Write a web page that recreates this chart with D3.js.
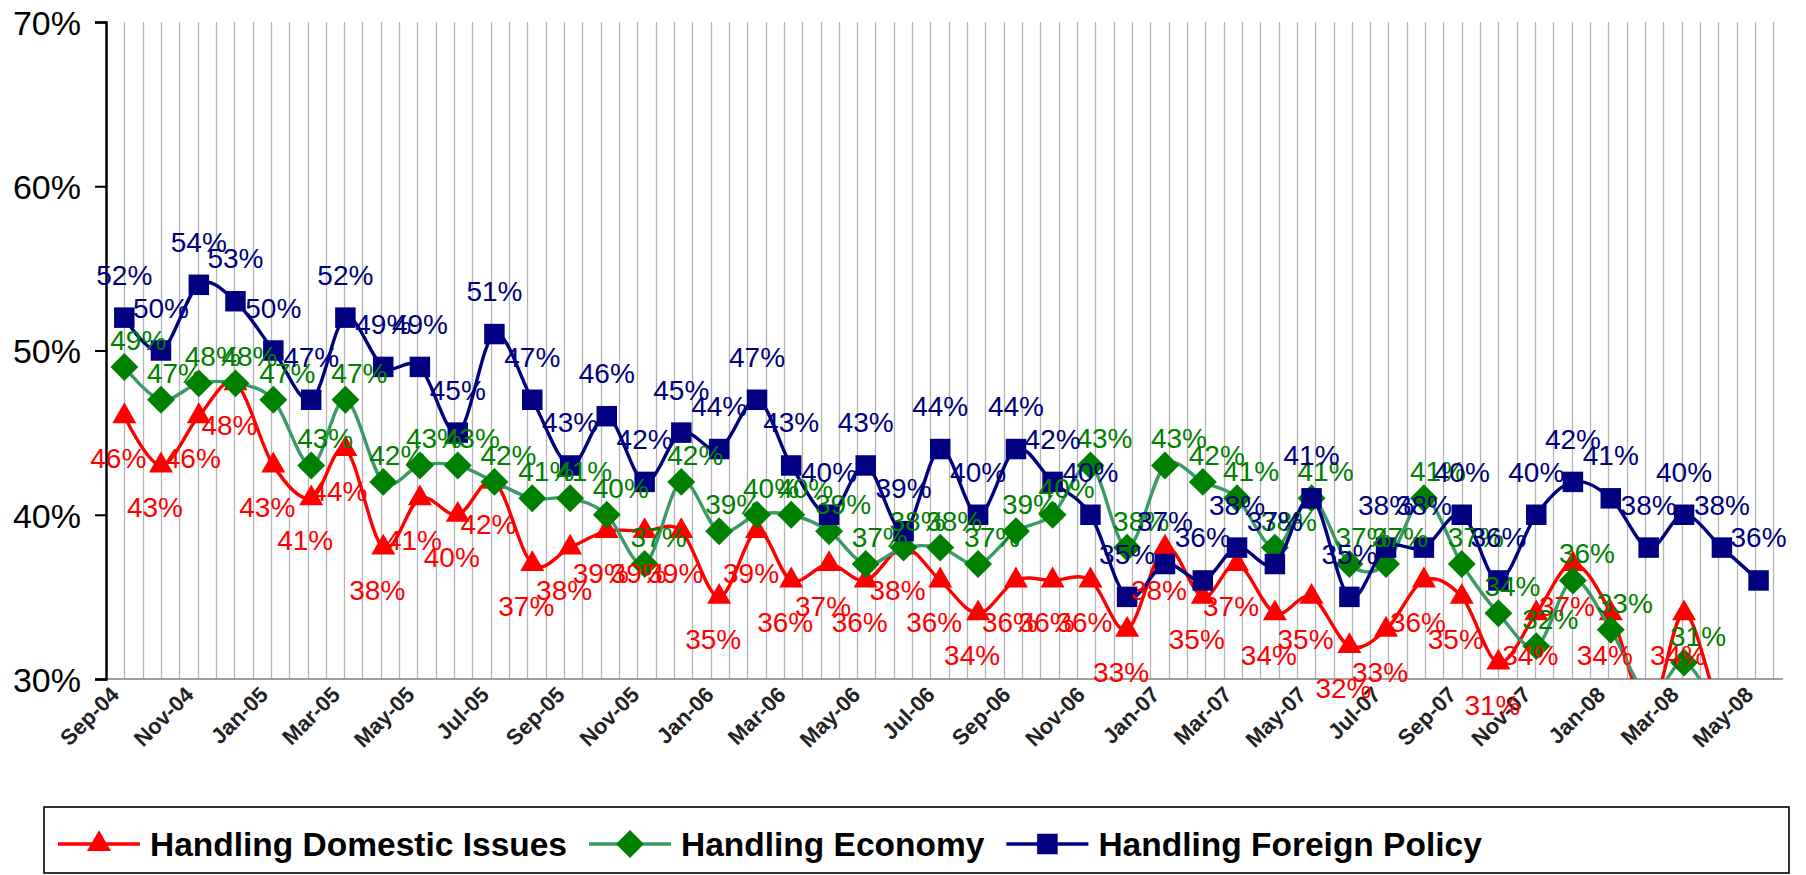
<!DOCTYPE html>
<html><head><meta charset="utf-8">
<script src="https://cdn.jsdelivr.net/npm/d3@7"></script>
<style>
body{margin:0;background:#fff}
svg{display:block}
text{font-family:"Liberation Sans",Arial,Helvetica,sans-serif}
</style>
</head><body>
<svg id="chart" width="1806" height="875"></svg>
<script>
// ---- data ----
const months = ["Sep-04","Oct-04","Nov-04","Dec-04",
  "Jan-05","Feb-05","Mar-05","Apr-05","May-05","Jun-05","Jul-05","Aug-05","Sep-05","Oct-05","Nov-05","Dec-05",
  "Jan-06","Feb-06","Mar-06","Apr-06","May-06","Jun-06","Jul-06","Aug-06","Sep-06","Oct-06","Nov-06","Dec-06",
  "Jan-07","Feb-07","Mar-07","Apr-07","May-07","Jun-07","Jul-07","Aug-07","Sep-07","Oct-07","Nov-07","Dec-07",
  "Jan-08","Feb-08","Mar-08","Apr-08","May-08"];
const domestic = [46,43,46,48,43,41,44,38,41,40,42,37,38,39,39,39,35,39,36,37,
  36,38,36,34,36,36,36,33,38,35,37,34,35,32,33,36,35,31,34,37,34,28,34,28,27];
const economy = [49,47,48,48,47,43,47,42,43,43,42,41,41,40,37,42,39,40,40,39,
  37,38,38,37,39,40,43,38,43,42,41,38,41,37,37,41,37,34,32,36,33,29,31,28,27];
const foreign = [52,50,54,53,50,47,52,49,49,45,51,47,43,46,42,45,44,47,43,40,
  43,39,44,40,44,42,40,35,37,36,38,37,41,35,38,38,40,36,40,42,41,38,40,38,36];
const seriesNames = ["Handling Domestic Issues","Handling Economy","Handling Foreign Policy"];
const yTicks = [30,40,50,60,70];

// ---- layout ----
const svg = d3.select("#chart");
const W = 1806, H = 875;
const plot = {left:106, right:1783, top:22, bottom:679};
const parse = d3.timeParse("%b-%y");
const dates = months.map(parse);
const x = d3.scaleTime()
  .domain([d3.timeDay.offset(dates[0], -15), d3.timeDay.offset(dates[dates.length-1], 20)])
  .range([plot.left, plot.right]);
const y = d3.scaleLinear().domain([30,70]).range([plot.bottom, plot.top]);

svg.append("rect").attr("width",W).attr("height",H).attr("fill","#fff");

// vertical gridlines every 15 days
const gridDates = [];
for (let d = d3.timeDay.offset(x.domain()[0], 15); d < x.domain()[1]; d = d3.timeDay.offset(d, 15)) gridDates.push(d);
svg.append("g").selectAll("line").data(gridDates).join("line")
  .attr("x1", d=>Math.round(x(d))+0.5).attr("x2", d=>Math.round(x(d))+0.5)
  .attr("y1", plot.top).attr("y2", plot.bottom)
  .attr("stroke","#b4b4b4").attr("stroke-width",1.3);

// x axis line
svg.append("line").attr("x1",plot.left).attr("x2",plot.right)
  .attr("y1",plot.bottom).attr("y2",plot.bottom)
  .attr("stroke","#808080").attr("stroke-width",1.5);

// y axis
const yAxis = d3.axisLeft(y).tickValues(yTicks).tickSize(11).tickFormat(d=>d+"%");
const yg = svg.append("g").attr("transform",`translate(${plot.left},0)`).call(yAxis);
yg.select(".domain").attr("stroke","#000").attr("stroke-width",2.5);
yg.selectAll(".tick line").attr("stroke","#000").attr("stroke-width",2);
yg.selectAll(".tick text").attr("font-size",34).attr("fill","#000")
  .attr("font-family","Liberation Sans, Arial, sans-serif").attr("x",-25).attr("dy","0.36em");

// x labels every 2 months
const xg = svg.append("g");
xg.selectAll("text").data(dates.filter((d,i)=>i%2===0)).join("text")
  .attr("transform", d=>`translate(${x(d)-4},${plot.bottom+17}) rotate(-45)`)
  .attr("text-anchor","end")
  .attr("font-size",22).attr("font-weight","bold").attr("fill","#222")
  .text((d)=>months[dates.indexOf(d)]);

// clip
svg.append("clipPath").attr("id","clip").append("rect")
  .attr("x",plot.left).attr("y",plot.top).attr("width",plot.right-plot.left).attr("height",plot.bottom-plot.top);

const styles = [
  {values:domestic, line:"#ff0000", mark:"#ff0000", label:"#ff0000", sym:d3.symbolTriangle, size:250, rot:0, ldx:-6, ldy:52},
  {values:economy,  line:"#3a9a6a", mark:"#008000", label:"#008000", sym:d3.symbolSquare, size:390, rot:45, ldx:14, ldy:-17},
  {values:foreign,  line:"#000080", mark:"#000080", label:"#000080", sym:d3.symbolSquare, size:420, rot:0, ldx:0, ldy:-33}
];

const lineGen = d3.line().curve(d3.curveCardinal.tension(0))
  .x((d,i)=>x(dates[i])).y(d=>y(d));

const gPlot = svg.append("g").attr("clip-path","url(#clip)");
styles.forEach(s=>{
  gPlot.append("path").datum(s.values).attr("d",lineGen)
    .attr("fill","none").attr("stroke",s.line).attr("stroke-width",3.4).attr("stroke-linejoin","round");
  gPlot.append("g").selectAll("path").data(s.values).join("path")
    .attr("d", d3.symbol().type(s.sym).size(s.size))
    .attr("transform",(d,i)=>`translate(${x(dates[i])},${y(d)}) rotate(${s.rot})`)
    .attr("fill",s.mark);
});

// data labels
styles.forEach(s=>{
  svg.append("g").selectAll("text").data(s.values.map((v,i)=>({v,i})).filter(d=>d.v>=30)).join("text")
    .attr("x",d=>x(dates[d.i])+s.ldx).attr("y",d=>y(d.v)+s.ldy)
    .attr("text-anchor","middle").attr("font-size",28).attr("fill",s.label)
    .text(d=>d.v+"%");
});

// legend
const leg = svg.append("g");
leg.append("rect").attr("x",44).attr("y",807).attr("width",1745).attr("height",66)
  .attr("fill","#fff").attr("stroke","#000").attr("stroke-width",1.6);
let lx = 58;
styles.forEach((s,k)=>{
  const cy = 844;
  leg.append("line").attr("x1",lx).attr("x2",lx+82).attr("y1",cy).attr("y2",cy)
    .attr("stroke",s.line).attr("stroke-width",3.4);
  leg.append("path").attr("d",d3.symbol().type(s.sym).size(s.size))
    .attr("transform",`translate(${lx+41},${cy}) rotate(${s.rot})`).attr("fill",s.mark);
  const t = leg.append("text").attr("x",lx+92).attr("y",cy+12)
    .attr("font-size",33.5).attr("font-weight","bold").attr("fill","#000").text(seriesNames[k]);
  lx = lx + 92 + t.node().getComputedTextLength() + 22;
});
</script>
</body></html>
